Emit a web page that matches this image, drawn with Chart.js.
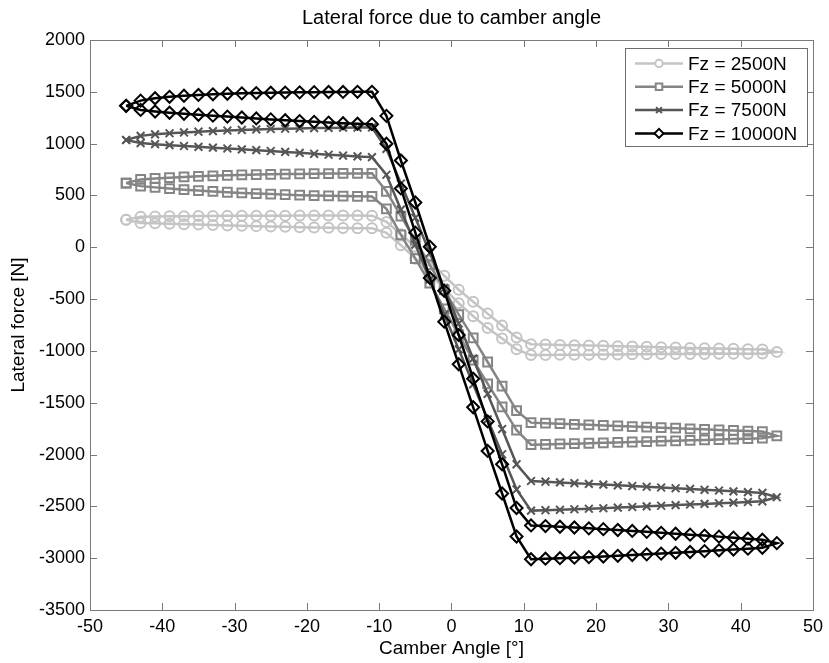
<!DOCTYPE html>
<html>
<head>
<meta charset="utf-8">
<title>Lateral force due to camber angle</title>
<script src="https://cdn.jsdelivr.net/npm/chart.js@4.4.0/dist/chart.umd.min.js"></script>
<style>
  body { margin: 0; background: #fff; }
  canvas { display: block; }
</style>
</head>
<body>
<canvas id="camberChart" width="829" height="663"></canvas>
<script>
// camber angle samples [deg], shared by every load case
var camberAngles = [-45, -43, -41, -39, -37, -35, -33, -31, -29, -27, -25, -23, -21, -19, -17, -15, -13, -11,
    -9, -7, -5, -3, -1, 1, 3, 5, 7, 9, 11,
    13, 15, 17, 19, 21, 23, 25, 27, 29, 31, 33, 35, 37, 39, 41, 43, 45];

// lateral force [N], sweep from -45 to 45 ("out") and the way back ("back")
var fz2500Out = [265, 235, 231, 227, 223, 219, 215, 211, 207, 204, 200, 197, 194, 191, 188, 186, 184, 183,
    140, 20, -110, -255, -400, -540, -665, -780, -880, -985, -1040,
    -1039, -1038, -1037, -1036, -1035, -1034, -1033, -1032, -1031, -1030, -1030, -1029, -1028, -1027, -1027, -1026, -1010];
var fz2500Back = [265, 295, 297, 299, 300, 301, 302, 303, 304, 304, 305, 305, 306, 306, 306, 306, 306, 305,
    245, 125, 5, -130, -275, -410, -525, -640, -755, -870, -935,
    -938, -942, -945, -948, -951, -955, -958, -961, -964, -967, -971, -974, -977, -980, -984, -987, -1010];

var fz5000Out = [620, 590, 578, 566, 556, 547, 539, 531, 524, 518, 513, 508, 503, 499, 496, 494, 492, 490,
    370, 120, -110, -345, -595, -845, -1090, -1317, -1540, -1765, -1905,
    -1902, -1898, -1895, -1891, -1887, -1883, -1879, -1875, -1871, -1867, -1863, -1859, -1855, -1851, -1847, -1842, -1819];
var fz5000Back = [620, 655, 664, 672, 679, 685, 690, 694, 698, 701, 704, 706, 708, 710, 711, 712, 713, 714,
    540, 300, 70, -170, -410, -650, -875, -1107, -1340, -1576, -1692,
    -1697, -1702, -1708, -1713, -1719, -1724, -1730, -1735, -1741, -1746, -1752, -1757, -1763, -1768, -1773, -1778, -1819];

var fz7500Out = [1035, 1005, 995, 985, 977, 969, 961, 953, 945, 937, 929, 920, 911, 902, 893, 885, 877, 870,
    700, 363, 26, -311, -648, -985, -1322, -1660, -1997, -2337, -2541,
    -2537, -2533, -2528, -2523, -2518, -2512, -2506, -2500, -2494, -2488, -2482, -2476, -2470, -2464, -2458, -2451, -2412];
var fz7500Back = [1035, 1075, 1090, 1100, 1108, 1115, 1121, 1127, 1132, 1137, 1141, 1144, 1147, 1150, 1152, 1154, 1155, 1156,
    950, 615, 285, -55, -395, -735, -1075, -1415, -1754, -2094, -2255,
    -2262, -2269, -2276, -2283, -2290, -2297, -2304, -2311, -2318, -2325, -2332, -2340, -2347, -2355, -2362, -2370, -2412];

var fz10000Out = [1365, 1325, 1310, 1298, 1288, 1279, 1270, 1261, 1252, 1243, 1234, 1226, 1218, 1210, 1203, 1197, 1192, 1188,
    999, 568, 141, -296, -718, -1129, -1544, -1965, -2376, -2791, -3010,
    -3005, -3000, -2995, -2990, -2984, -2977, -2970, -2963, -2956, -2948, -2940, -2932, -2924, -2916, -2908, -2900, -2855];
var fz10000Back = [1365, 1415, 1438, 1452, 1462, 1470, 1476, 1481, 1485, 1488, 1491, 1493, 1495, 1497, 1498, 1499, 1500, 1500,
    1268, 837, 432, 5, -420, -847, -1268, -1680, -2094, -2516, -2684,
    -2690, -2697, -2704, -2712, -2720, -2728, -2737, -2746, -2755, -2764, -2773, -2782, -2792, -2802, -2812, -2822, -2855];

var seriesNames = ['Fz = 2500N', 'Fz = 5000N', 'Fz = 7500N', 'Fz = 10000N'];
var xTicks = [-50, -40, -30, -20, -10, 0, 10, 20, 30, 40, 50];
var yTicks = [-3500, -3000, -2500, -2000, -1500, -1000, -500, 0, 500, 1000, 1500, 2000];

// one closed loop per load case: out to +45, then back to -45
function loopPoints(outVals, backVals) {
    var pts = [];
    for (var i = 0; i < camberAngles.length; i++) {
        pts.push({ x: camberAngles[i], y: outVals[i] });
    }
    for (var j = camberAngles.length - 2; j >= 0; j--) {
        pts.push({ x: camberAngles[j], y: backVals[j] });
    }
    return pts;
}

var FONT = '"Liberation Sans", Arial, Helvetica, sans-serif';
Chart.defaults.font.family = FONT;
Chart.defaults.font.size = 18;
Chart.defaults.color = '#000';

var styles = [
    { color: '#c4c4c4', point: 'circle', radius: 5 },
    { color: '#858585', point: 'rect', radius: 6.2 },
    { color: '#565656', point: 'crossRot', radius: 5.5 },
    { color: '#000000', point: 'rectRot', radius: 6 }
];

function makeDataset(idx, outVals, backVals) {
    var s = styles[idx];
    return {
        label: seriesNames[idx],
        data: loopPoints(outVals, backVals),
        showLine: true,
        borderColor: s.color,
        borderWidth: 2.5,
        pointStyle: s.point,
        pointRadius: s.radius,
        pointBorderColor: s.color,
        pointBackgroundColor: 'rgba(0,0,0,0)',
        pointBorderWidth: 2,
        order: 4 - idx
    };
}

// box, inner ticks, title, axis labels and legend in the matlab look
var matlabFrame = {
    id: 'matlabFrame',
    afterDraw: function (chart) {
        var ctx = chart.ctx, a = chart.chartArea;
        var xs = chart.scales.x, ys = chart.scales.y;
        ctx.save();
        ctx.strokeStyle = '#7a7a7a';
        ctx.lineWidth = 1;
        ctx.strokeRect(a.left + 0.5, a.top + 0.5, a.right - a.left, a.bottom - a.top);
        ctx.beginPath();
        xs.ticks.forEach(function (t) {
            var px = Math.round(xs.getPixelForValue(t.value)) + 0.5;
            ctx.moveTo(px, a.bottom); ctx.lineTo(px, a.bottom - 7);
            ctx.moveTo(px, a.top); ctx.lineTo(px, a.top + 7);
        });
        ys.ticks.forEach(function (t) {
            var py = Math.round(ys.getPixelForValue(t.value)) + 0.5;
            ctx.moveTo(a.left, py); ctx.lineTo(a.left + 7, py);
            ctx.moveTo(a.right, py); ctx.lineTo(a.right - 7, py);
        });
        ctx.stroke();

        ctx.fillStyle = '#000';
        ctx.textAlign = 'center';
        ctx.textBaseline = 'middle';
        ctx.font = '20px ' + FONT;
        ctx.fillText('Lateral force due to camber angle', (a.left + a.right) / 2, 18);
        ctx.font = '19px ' + FONT;
        ctx.fillText('Camber Angle [\u00b0]', (a.left + a.right) / 2, 649);
        ctx.save();
        ctx.translate(19, (a.top + a.bottom) / 2);
        ctx.rotate(-Math.PI / 2);
        ctx.fillText('Lateral force [N]', 0, 0);
        ctx.restore();

        // legend
        var bx = 625, by = 48, bw = 182, bh = 98;
        ctx.fillStyle = '#fff';
        ctx.fillRect(bx, by, bw, bh);
        ctx.strokeStyle = '#6e6e6e';
        ctx.lineWidth = 1;
        ctx.strokeRect(bx + 0.5, by + 0.5, bw, bh);
        ctx.textAlign = 'left';
        ctx.font = '19px ' + FONT;
        chart.data.datasets.forEach(function (ds, i) {
            var ly = by + 15.5 + i * 23.3;
            ctx.strokeStyle = ds.borderColor;
            ctx.lineWidth = 2.5;
            ctx.beginPath();
            ctx.moveTo(635, ly); ctx.lineTo(683, ly);
            ctx.stroke();
            ctx.fillStyle = '#fff';
            ctx.lineWidth = 2;
            Chart.helpers.drawPoint(ctx, {
                pointStyle: ds.pointStyle, radius: ds.pointRadius * 0.75, borderWidth: 2, rotation: 0
            }, 659, ly);
            ctx.fillStyle = '#000';
            ctx.fillText(ds.label, 688, ly + 1);
        });
        ctx.restore();
    }
};

function plainLabel(value) {
    return String(value);
}

new Chart(document.getElementById('camberChart'), {
    type: 'scatter',
    data: {
        datasets: [
            makeDataset(0, fz2500Out, fz2500Back),
            makeDataset(1, fz5000Out, fz5000Back),
            makeDataset(2, fz7500Out, fz7500Back),
            makeDataset(3, fz10000Out, fz10000Back)
        ]
    },
    options: {
        responsive: false,
        animation: false,
        devicePixelRatio: 1,
        layout: { padding: { top: 40, right: 14, left: 0, bottom: 0 } },
        plugins: {
            legend: { display: false },
            title: { display: false },
            tooltip: { enabled: false }
        },
        scales: {
            x: {
                type: 'linear',
                min: -50, max: 50,
                afterBuildTicks: function (scale) {
                    scale.ticks = xTicks.map(function (v) { return { value: v }; });
                },
                afterFit: function (scale) { scale.height = 53; },
                grid: { display: false, drawTicks: false },
                border: { display: false },
                ticks: { padding: 6, maxRotation: 0, autoSkip: false, callback: plainLabel }
            },
            y: {
                type: 'linear',
                min: -3500, max: 2000,
                afterBuildTicks: function (scale) {
                    scale.ticks = yTicks.map(function (v) { return { value: v }; });
                },
                afterFit: function (scale) { scale.width = 90; },
                grid: { display: false, drawTicks: false },
                border: { display: false },
                ticks: { padding: 5, autoSkip: false, callback: plainLabel }
            }
        }
    },
    plugins: [matlabFrame]
});
</script>
</body>
</html>
